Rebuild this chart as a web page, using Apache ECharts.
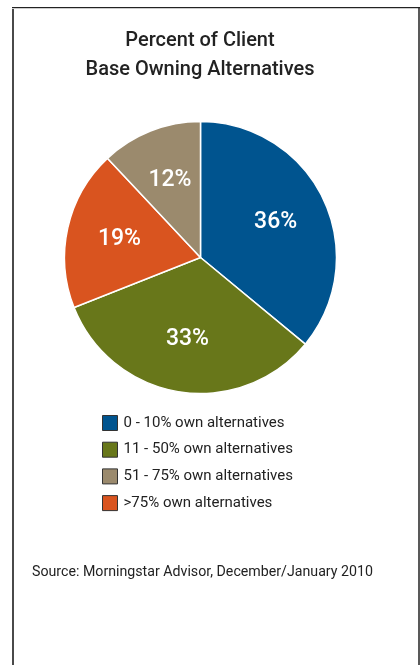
<!DOCTYPE html>
<html>
<head>
<meta charset="utf-8">
<title>Percent of Client Base Owning Alternatives</title>
<script src="https://cdn.jsdelivr.net/npm/echarts@6/dist/echarts.min.js"></script>
<style>
  html, body { margin: 0; padding: 0; background: #fff; }
  #chart { width: 420px; height: 665px; }
</style>
</head>
<body>
<div id="chart"></div>
<script>
// data
var categories = ['0 - 10% own alternatives', '11 - 50% own alternatives', '>75% own alternatives', '51 - 75% own alternatives'];
var shares = [36, 33, 19, 12];
var sliceColors = ['#00548f', '#68771a', '#d9541f', '#9b8a6d'];
var legendOrder = ['0 - 10% own alternatives', '11 - 50% own alternatives', '51 - 75% own alternatives', '>75% own alternatives'];
var titleLines = ['Percent of Client', 'Base Owning Alternatives'];
var sourceNote = 'Source: Morningstar Advisor, December/January 2010';

var FONT = 'Roboto, "Liberation Sans", Arial, sans-serif';

var chart = echarts.init(document.getElementById('chart'));

var pieData = categories.map(function (name, i) {
  return { name: name, value: shares[i], itemStyle: { color: sliceColors[i] } };
});

chart.setOption({
  animation: false,
  title: {
    text: titleLines.join('\n'),
    left: 195,
    top: 22,
    textAlign: 'center',
    textStyle: {
      fontFamily: FONT,
      fontSize: 20,
      fontWeight: 500,
      lineHeight: 28.5,
      color: '#222'
    }
  },
  legend: {
    orient: 'vertical',
    left: 97,
    top: 410,
    data: legendOrder,
    itemWidth: 15,
    itemHeight: 15,
    itemGap: 10.7,
    icon: 'rect',
    selectedMode: false,
    itemStyle: { borderColor: '#333', borderWidth: 1 },
    textStyle: {
      fontFamily: FONT,
      fontSize: 15,
      color: '#222',
      padding: [0, 0, 0, 1]
    }
  },
  graphic: [
    { type: 'line', shape: { x1: 13, y1: 7, x2: 13, y2: 665 }, style: { stroke: '#4a4a4a', lineWidth: 2 } },
    { type: 'line', shape: { x1: 12, y1: 7.5, x2: 420, y2: 7.5 }, style: { stroke: '#222', lineWidth: 1 } },
    { type: 'line', shape: { x1: 12, y1: 8.5, x2: 420, y2: 8.5 }, style: { stroke: '#ccc', lineWidth: 1 } },
    { type: 'line', shape: { x1: 419, y1: 7, x2: 419, y2: 665 }, style: { stroke: '#222', lineWidth: 1.5 } },
    {
      type: 'text', left: 32, top: 565,
      style: { text: sourceNote, font: '14.2px ' + FONT, fill: '#222' }
    }
  ],
  series: [
    {
      type: 'pie',
      center: [200.5, 257.5],
      radius: [0, 136],
      startAngle: 90,
      clockwise: true,
      silent: true,
      data: pieData,
      itemStyle: { borderColor: '#fff', borderWidth: 1.5 },
      label: { show: false },
      labelLine: { show: false }
    },
    {
      // transparent copy only used to place the percentage labels a bit further out
      type: 'pie',
      center: [200.5, 257.5],
      radius: [0, 160],
      startAngle: 90,
      clockwise: true,
      silent: true,
      data: pieData.map(function (d) { return { name: d.name, value: d.value }; }),
      itemStyle: { color: 'rgba(0,0,0,0)' },
      label: {
        show: true,
        position: 'inside',
        formatter: '{c}%',
        fontFamily: FONT,
        fontSize: 23,
        fontWeight: 500,
        color: '#fff'
      },
      labelLine: { show: false }
    }
  ]
});
</script>
</body>
</html>
